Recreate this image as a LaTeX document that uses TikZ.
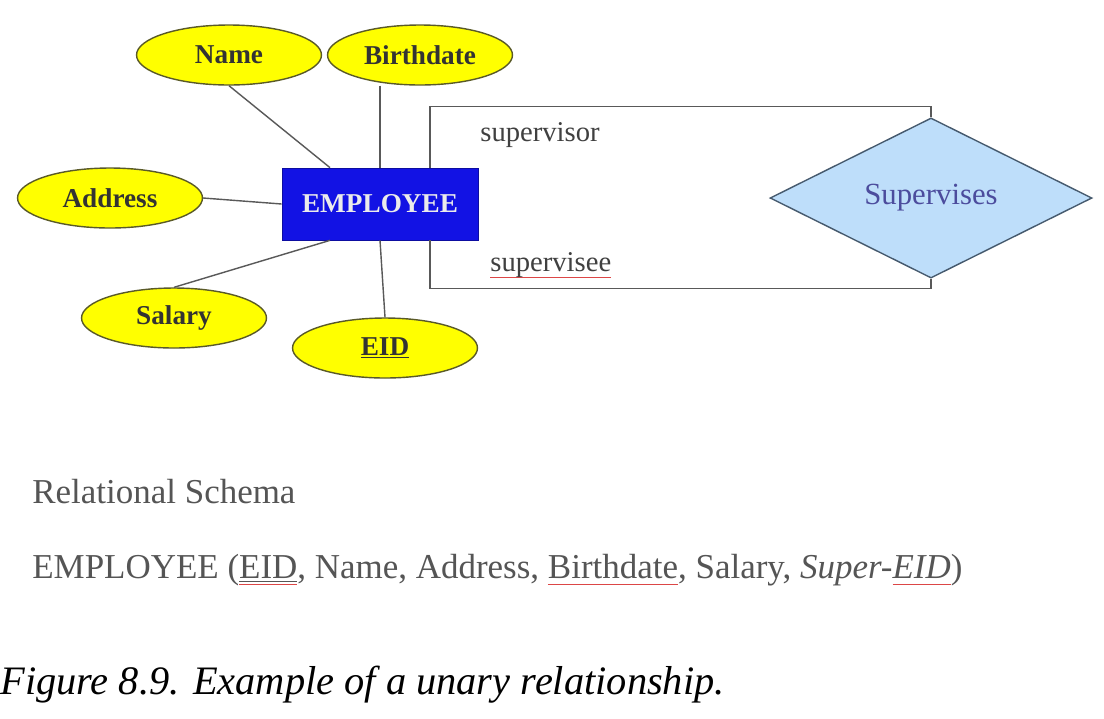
\documentclass[tikz,border=0pt]{standalone}
\usepackage{fontspec}
\setmainfont{Liberation Serif}
\usepackage{xcolor}
\usetikzlibrary{shapes.geometric, positioning}

\definecolor{attrYellow}{RGB}{255,255,0}
\definecolor{attrEdge}{RGB}{90,90,40}
\definecolor{entBlue}{RGB}{18,18,228}
\definecolor{relFill}{RGB}{190,222,250}
\definecolor{relEdge}{RGB}{70,90,110}
\definecolor{schemaGray}{RGB}{85,85,85}
\definecolor{squigRed}{RGB}{220,70,70}

% red spell-check line under a word
\newcommand{\squig}[1]{\setbox0\hbox{#1}\rlap{\textcolor{squigRed}{\rule[-3.5pt]{\wd0}{0.5pt}}}\box0}

\begin{document}
\begin{tikzpicture}[
        x=0.02cm, y=-0.02cm,       % one unit = one pixel of the layout
        attr/.style={              % attributes (yellow ellipses)
            ellipse,
            draw=attrEdge,
            fill=attrYellow,
            line width=0.8pt,
            minimum width=3.7cm,
            minimum height=1.2cm,
            inner sep=0pt,
            text=black!80,
            font=\fontsize{15.5}{17}\selectfont\bfseries
        },
        entity/.style={            % entity (blue box)
            rectangle,
            draw=entBlue!70!black,
            fill=entBlue,
            minimum width=3.92cm,
            minimum height=1.44cm,
            text=white!92!black,
            font=\fontsize{15.5}{17}\selectfont\bfseries
        },
        relship/.style={           % relationship (diamond)
            diamond,
            draw=relEdge,
            fill=relFill,
            line width=0.8pt,
            minimum width=6.44cm,
            minimum height=3.14cm,
            inner sep=0pt,
            text=black!55!blue!70,
            font=\fontsize{17.5}{19}\selectfont
        },
        link/.style={draw=black!65, line width=0.8pt},
        role/.style={anchor=west, inner sep=0pt, text=black!75,
            font=\fontsize{16.3}{18}\selectfont},
        schema/.style={anchor=west, inner sep=0pt, text=schemaGray,
            font=\fontsize{19.9}{23}\selectfont}
    ]

    \useasboundingbox[fill=white] (0,0) rectangle (1104,718);

    % --- Entity and attributes ---
    \node[entity] (emp) at (380,204) {EMPLOYEE};

    \node[attr] (name)  at (229,55)  {Name};
    \node[attr] (birth) at (420,55)  {Birthdate};
    \node[attr] (addr)  at (110,198) {Address};
    \node[attr] (sal)   at (174,318) {Salary};
    \node[attr] (eid)   at (385,348) {\underline{EID}};

    % --- Relationship ---
    \node[relship] (sup) at (931,198) {Supervises};

    % --- Attribute links ---
    \draw[link] (name.south) -- ([xshift=-1cm]emp.north);
    \draw[link] (emp.north |- birth.south) -- (emp.north);
    \draw[link] (addr.east) -- (emp.west);
    \draw[link] (sal.north) -- ([xshift=-1cm]emp.south);
    \draw[link] (eid.north) -- (emp.south);

    % --- Unary loop (supervisor / supervisee) ---
    \draw[link] ([xshift=1cm]emp.north) -- ++(0,-61) -| (sup.north);
    \draw[link] ([xshift=1cm]emp.south) -- ++(0,48) -| (sup.south);

    \node[role] (sor) at (480,135) {supervisor};
    \node[role] (see) at (490,265) {\squig{supervisee}};

    % --- Relational schema ---
    \node[schema] (relhead) at (32,492) {Relational Schema};
    \node[schema] (relrow) at (32,570)
        {EMPLOYEE (\squig{\underline{EID}}, Name, Address, \squig{Birthdate}, Salary, \textit{Super-\squig{EID}})};

    % --- Caption ---
    \node[anchor=west, inner sep=0pt, font=\fontsize{23}{27}\selectfont\itshape]
        (cap) at (0,685) {Figure 8.9. Example of a unary relationship.};

\end{tikzpicture}
\end{document}
